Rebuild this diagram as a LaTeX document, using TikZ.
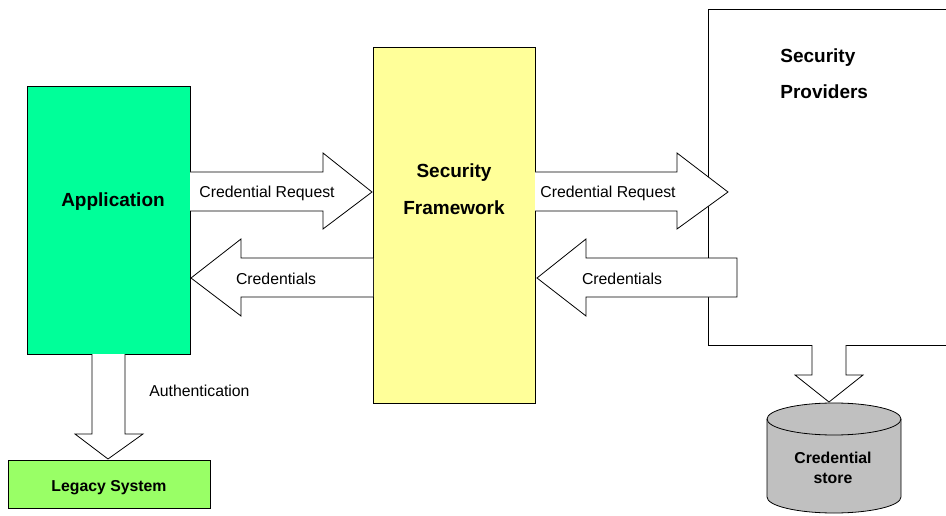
\documentclass[tikz,border=0pt]{standalone}
\usepackage{fontspec}
\setmainfont{Liberation Sans}
\definecolor{appgreen}{HTML}{00FF99}
\definecolor{fwyellow}{HTML}{FFFF99}
\definecolor{legacygreen}{HTML}{99FF66}
\definecolor{cylgray}{HTML}{C0C0C0}
\begin{document}
\begin{tikzpicture}[x=1pt,y=-1pt,line width=0.8pt,line join=miter,
  lbl/.style={font=\fontsize{15.8}{18}\selectfont,inner sep=0pt},
  big/.style={font=\bfseries\fontsize{19}{22}\selectfont,inner sep=0pt},
  mid/.style={font=\bfseries\fontsize{15.8}{20}\selectfont,inner sep=0pt},
  box/.style={draw,anchor=north west,inner sep=0pt},
  blockarrow/.style={draw,fill=white}]
\useasboundingbox (0,0) rectangle (946,516);
\clip (0,0) rectangle (946,516);
% boxes
\node[box,fill=appgreen,minimum width=163pt,minimum height=268pt] (app) at (27,86) {};
\node[box,fill=fwyellow,minimum width=162pt,minimum height=356pt] (fw) at (373,47) {};
\node[box,fill=white,minimum width=260pt,minimum height=336pt] (prov) at (708,9) {};
\node[box,fill=legacygreen,minimum width=202pt,minimum height=48pt] (legacy) at (8,460) {};
% labels in boxes
\node[big] (applbl) at (113,202) {Application};
\node[big,align=center] (fwlbl1) at (454,173) {Security};
\node[big,align=center] (fwlbl2) at (454,208) {Framework};
\node[big,anchor=west] (provlbl1) at (780,58) {Security};
\node[big,anchor=west] (provlbl2) at (780,92) {Providers};
\node[mid] (leglbl) at (109,488) {Legacy System};
% block arrows
\filldraw[blockarrow] (190,172) -- (323,172) -- (323,153) -- (372,192) -- (323,229) -- (323,211) -- (190,211);
\filldraw[blockarrow] (373,258) -- (241,258) -- (241,239) -- (191,278) -- (241,316) -- (241,297) -- (373,297);
\filldraw[blockarrow] (535,172) -- (677,172) -- (677,153) -- (728,192) -- (677,229) -- (677,211) -- (535,211);
\filldraw[blockarrow] (737,258) -- (586,258) -- (586,239) -- (537,278) -- (586,316) -- (586,297) -- (737,297) -- cycle;
\filldraw[blockarrow] (92,354) -- (92,434) -- (75,434) -- (108,459) -- (143,434) -- (125,434) -- (125,354);
\filldraw[blockarrow] (812,345) -- (812,375) -- (795,375) -- (829,402) -- (863,375) -- (846,375) -- (846,345);
% arrow labels
\node[lbl] (req1) at (267,193) {Credential Request};
\node[lbl] (cred1) at (276,279) {Credentials};
\node[lbl] (req2) at (608,193) {Credential Request};
\node[lbl] (cred2) at (622,279) {Credentials};
\node[lbl,anchor=west] (auth) at (149,391) {Authentication};
% cylinder
\filldraw[fill=cylgray] (767,419) -- (767,497) arc[start angle=180,end angle=360,x radius=67pt,y radius=16pt]
  -- (901,419) arc[start angle=0,end angle=180,x radius=67pt,y radius=16pt] -- cycle;
\draw (767,419) arc[start angle=180,end angle=360,x radius=67pt,y radius=16pt];
\node[mid,align=center] (store) at (833,468) {Credential\\store};
\end{tikzpicture}
\end{document}
